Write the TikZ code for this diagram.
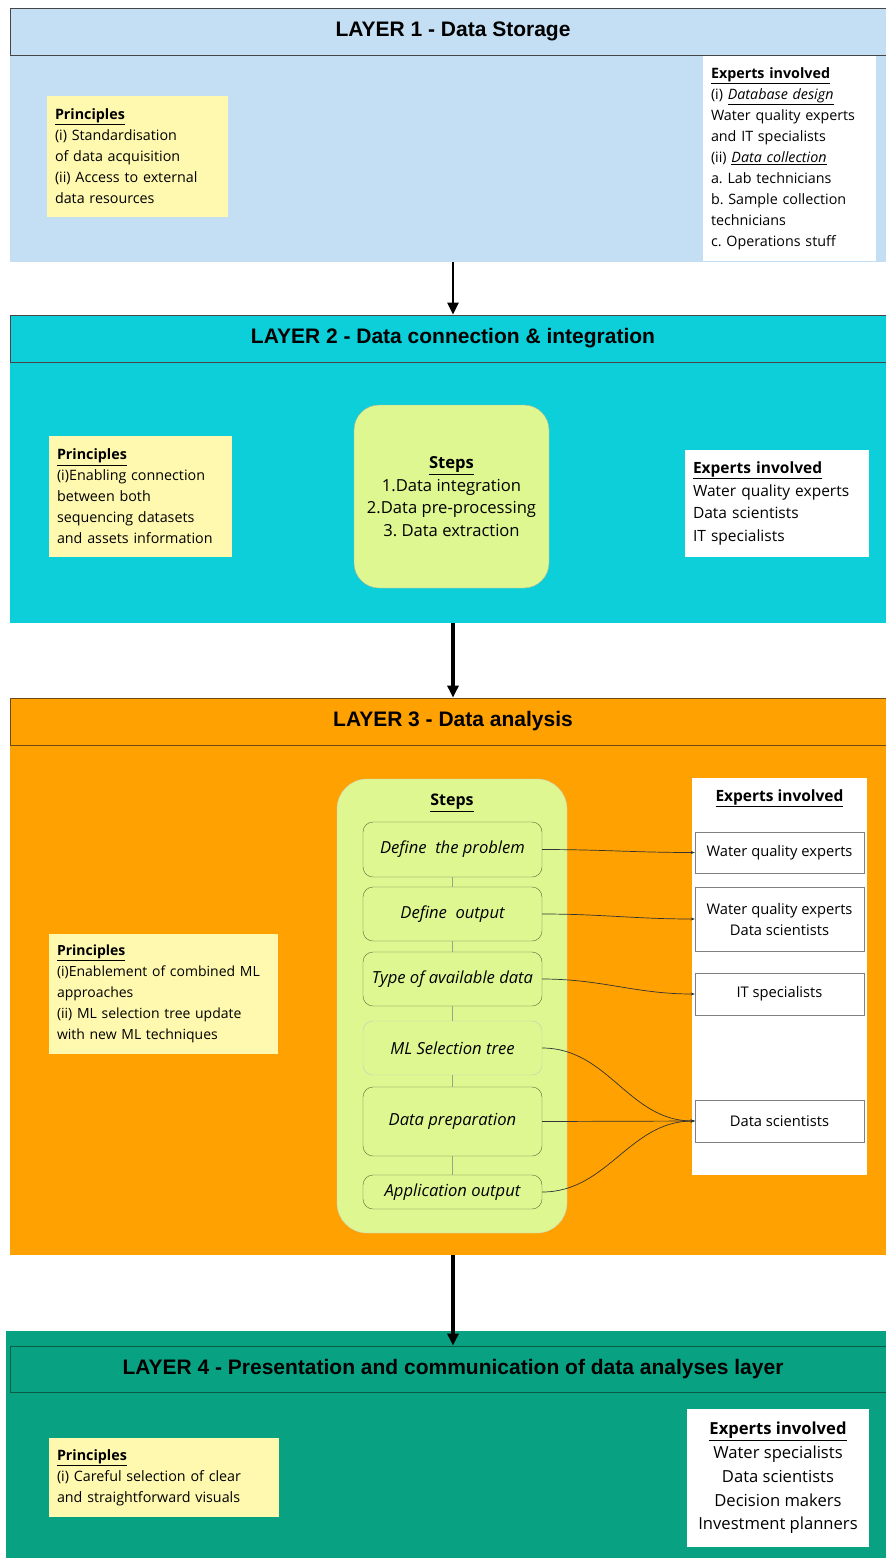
\documentclass[tikz,border=0pt]{standalone}
\usepackage{fontspec}
\setmainfont{Open Sans}
\newfontfamily\headfont{Liberation Sans}
\frenchspacing
\usetikzlibrary{arrows.meta}
\definecolor{LOneBlue}{RGB}{196,222,243}
\definecolor{LTwoCyan}{RGB}{12,207,218}
\definecolor{LThreeOrange}{RGB}{255,161,0}
\definecolor{LFourGreen}{RGB}{8,162,130}
\definecolor{NoteYellow}{RGB}{255,249,176}
\definecolor{StepGreen}{RGB}{222,247,145}
\definecolor{StepEdge}{RGB}{90,105,60}
\definecolor{EdgeGray}{RGB}{70,70,70}
\definecolor{EdgeBrown}{RGB}{110,75,20}
\definecolor{EdgeGreen}{RGB}{10,90,70}

\begin{document}
\begin{tikzpicture}[x=1pt, y=-1pt,
          band/.style={rectangle, inner sep=0pt, minimum width=886pt},
          hbox/.style={band, draw=#1, line width=0.8pt,
                       font=\headfont\bfseries\fontsize{21}{24}\selectfont},
          note/.style={rectangle, fill=NoteYellow, align=left, inner xsep=8pt,
                       inner ysep=0pt, font=\fontsize{14.3}{21}\selectfont},
          ebox/.style={rectangle, fill=white, inner xsep=8pt, inner ysep=0pt},
          stepbox/.style={rectangle, rounded corners=10pt, draw=StepEdge, fill=StepGreen,
                       minimum width=179pt, inner sep=0pt,
                       font=\itshape\fontsize{16.6}{20}\selectfont},
          xbox/.style={rectangle, draw=gray, fill=white, minimum width=169pt, inner sep=0pt,
                       align=center, font=\fontsize{14.7}{21}\selectfont},
          arr/.style={-{Triangle[length=12pt, width=11pt]}, line width=2.5pt},
          link/.style={-{Stealth[length=4pt]}, draw=black!80, line width=0.7pt},
          vlink/.style={draw=StepEdge!60, line width=0.6pt}
        ]
        \useasboundingbox (0,0) rectangle (886,1558);
        \fill[white] (0,0) rectangle (886,1558);

        % Layer 1
        \node[band, fill=LOneBlue, minimum height=207pt] (l1body) at (453,158.5) {};
        \node[hbox=EdgeGray, fill=LOneBlue, minimum height=47pt] (l1head) at (453,31.5)
              {LAYER 1 - Data Storage};
        \node[note, text width=165pt, minimum height=121pt] (l1prin) at (137.5,156.5)
              {\underline{\textbf{Principles}}\\(i) Standardisation\\of data acquisition\\
               (ii) Access to external\\data resources};
        \node[ebox, text width=157pt, minimum height=205pt, align=left,
              font=\fontsize{14.3}{21}\selectfont] (l1exp) at (789.5,158.5)
              {\underline{\textbf{Experts involved}}\\(i) \underline{\textit{Database design}}\\
               Water quality experts\\and IT specialists\\(ii) \underline{\textit{Data collection}}\\
               a. Lab technicians\\b. Sample collection\\technicians\\c. Operations stuff};

        % Layer 2
        \node[band, fill=LTwoCyan, minimum height=261pt] (l2body) at (453,492.5) {};
        \node[hbox=EdgeGray, fill=LTwoCyan, minimum height=47pt] (l2head) at (453,338.5)
              {LAYER 2 - Data connection \& integration};
        \node[note, text width=167pt, minimum height=121pt] (l2prin) at (140.5,496.5)
              {\underline{\textbf{Principles}}\\(i)Enabling connection\\between both\\
               sequencing datasets\\and assets information};
        \node[rectangle, rounded corners=25pt, draw=StepEdge!50, fill=StepGreen,
              minimum width=195pt, minimum height=183pt, align=center,
              font=\fontsize{16.6}{22.5}\selectfont] (l2steps) at (451.5,496.5)
              {\underline{\textbf{Steps}}\\1.Data integration\\2.Data pre-processing\\3. Data extraction};
        \node[ebox, text width=168pt, minimum height=107pt, align=left,
              font=\fontsize{15.5}{22.7}\selectfont] (l2exp) at (777,503.5)
              {\underline{\textbf{Experts involved}}\\Water quality experts\\Data scientists\\IT specialists};

        % Layer 3
        \node[band, fill=LThreeOrange, minimum height=510pt] (l3body) at (453,1000) {};
        \node[hbox=EdgeBrown, fill=LThreeOrange, minimum height=47pt]
              (l3head) at (453,721.5) {LAYER 3 - Data analysis};
        \node[note, text width=213pt, minimum height=120pt, font=\fontsize{14}{21}\selectfont]
              (l3prin) at (163.5,994)
              {\underline{\textbf{Principles}}\\(i)Enablement of combined ML\\approaches\\
               (ii) ML selection tree update\\with new ML techniques};
        \node[rectangle, rounded corners=30pt, draw=StepEdge!30, fill=StepGreen,
              minimum width=230pt, minimum height=454pt] (l3steps) at (452,1006) {};
        \node[font=\fontsize{16}{20}\selectfont] (l3title) at (452,803)
              {\underline{\textbf{Steps}}};
        \node[stepbox, minimum height=55pt] (s1) at (452.5,849.5) {Define\ \ the problem};
        \node[stepbox, minimum height=54pt] (s2) at (452.5,914) {Define\ \ output};
        \node[stepbox, minimum height=54pt] (s3) at (452.5,979) {Type of available data};
        \node[stepbox, draw=StepEdge!35, minimum height=54pt] (s4) at (452.5,1048) {ML Selection tree};
        \node[stepbox, minimum height=69pt] (s5) at (452.5,1121.5) {Data preparation};
        \node[stepbox, minimum height=34pt] (s6) at (452.5,1192) {Application output};
        \draw[vlink] (s1.south) -- (s2.north);
        \draw[vlink] (s2.south) -- (s3.north);
        \draw[vlink] (s3.south) -- (s4.north);
        \draw[vlink] (s4.south) -- (s5.north);
        \draw[vlink] (s5.south) -- (s6.north);

        \node[rectangle, fill=white, inner sep=0pt, minimum width=175pt, minimum height=397pt]
              (l3exp) at (779.5,976.5) {};
        \node[font=\fontsize{15.5}{20}\selectfont] (l3etitle) at (779.5,798)
              {\underline{\textbf{Experts involved}}};
        \node[xbox, minimum height=41pt] (e1) at (779.5,852.5) {Water quality experts};
        \node[xbox, minimum height=64pt] (e2) at (779.5,919) {Water quality experts\\Data scientists};
        \node[xbox, minimum height=42pt] (e3) at (779.5,994) {IT specialists};
        \node[xbox, minimum height=42pt] (e4) at (779.5,1121) {Data scientists};

        % Steps -> experts
        \draw[link] (s1.east) to[out=0, in=180] (e1.west);
        \draw[link] (s2.east) to[out=0, in=180] (e2.west);
        \draw[link] (s3.east) to[out=0, in=180] (e3.west);
        \draw[link] (s4.east) to[out=0, in=180] (e4.west);
        \draw[link] (s5.east) -- (e4.west);
        \draw[link] (s6.east) to[out=0, in=180] (e4.west);

        % Layer 4
        \node[band, fill=LFourGreen, minimum width=890pt, minimum height=234pt] (l4body) at (451,1448) {};
        \node[hbox=EdgeGreen, fill=LFourGreen, minimum height=46pt]
              (l4head) at (453,1369)
              {LAYER 4 - Presentation and communication of data analyses layer};
        \node[note, text width=214pt, minimum height=79pt] (l4prin) at (164,1477.5)
              {\underline{\textbf{Principles}}\\(i) Careful selection of clear\\and straightforward visuals};
        \node[ebox, minimum width=182pt, minimum height=138pt, align=center,
              font=\fontsize{16.6}{23.7}\selectfont] (l4exp) at (778,1478)
              {\underline{\textbf{Experts involved}}\\Water specialists\\Data scientists\\
               Decision makers\\Investment planners};

        % Layer arrows
        \draw[arr] (l1body.south) -- (l2head.north);
        \draw[arr, line width=3.5pt] (l2body.south) -- (l3head.north);
        \draw[arr, line width=3.5pt] (l3body.south) -- (l4head.north);
      \end{tikzpicture}
\end{document}
